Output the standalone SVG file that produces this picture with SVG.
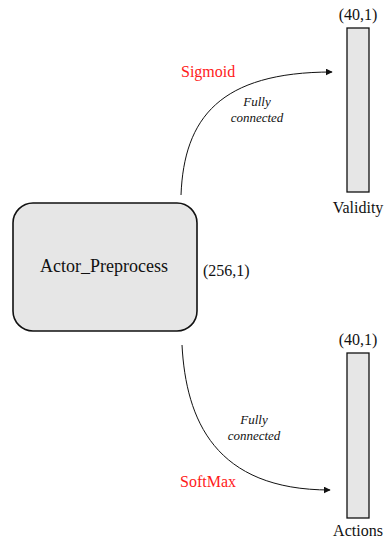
<svg xmlns="http://www.w3.org/2000/svg" width="384" height="543" viewBox="0 0 384 543" font-family="'Liberation Serif', 'Times New Roman', serif">
  <defs>
    <style>
      text { fill: #111; }
      .lbl { font-size: 16px; }
      .main { font-size: 18px; }
      .act { font-size: 16px; fill: #ff1a1a; }
      .fc { font-size: 13px; font-style: italic; }
      .box { fill: #e6e6e6; stroke: #111; stroke-width: 1.6; }
      .bar { fill: #e6e6e6; stroke: #111; stroke-width: 1.3; }
      .edge { fill: none; stroke: #111; stroke-width: 1; }
    </style>
    <marker id="arrow" viewBox="0 0 10 10" refX="9" refY="5" markerWidth="7" markerHeight="7" markerUnits="userSpaceOnUse" orient="auto">
      <path d="M0,0 L10,5 L0,10 z" fill="#111"/>
    </marker>
  </defs>

  <!-- connectors -->
  <g id="connectors">
    <path class="edge" d="M181,195 C184,118 220,72 332,72" marker-end="url(#arrow)"/>
    <path class="edge" d="M182,345 C186,420 215,490 330,490" marker-end="url(#arrow)"/>
    <text class="act" x="181" y="77">Sigmoid</text>
    <text class="fc" x="257" y="106" text-anchor="middle">Fully</text>
    <text class="fc" x="257" y="122" text-anchor="middle">connected</text>
    <text class="fc" x="254" y="424" text-anchor="middle">Fully</text>
    <text class="fc" x="254" y="440" text-anchor="middle">connected</text>
    <text class="act" x="180" y="487">SoftMax</text>
  </g>

  <!-- source node -->
  <g id="actor_preprocess">
    <rect class="box" x="13" y="203" width="184" height="128" rx="20" ry="20"/>
    <text class="main" x="104" y="272" text-anchor="middle">Actor_Preprocess</text>
    <text class="lbl" x="203" y="276">(256,1)</text>
  </g>

  <!-- validity output -->
  <g id="validity">
    <text class="lbl" x="358" y="20" text-anchor="middle">(40,1)</text>
    <rect class="bar" x="347" y="28" width="22" height="164"/>
    <text class="lbl" x="358" y="213" text-anchor="middle">Validity</text>
  </g>

  <!-- actions output -->
  <g id="actions">
    <text class="lbl" x="358" y="345" text-anchor="middle">(40,1)</text>
    <rect class="bar" x="347" y="353" width="22" height="165"/>
    <text class="lbl" x="358" y="536" text-anchor="middle">Actions</text>
  </g>
</svg>
